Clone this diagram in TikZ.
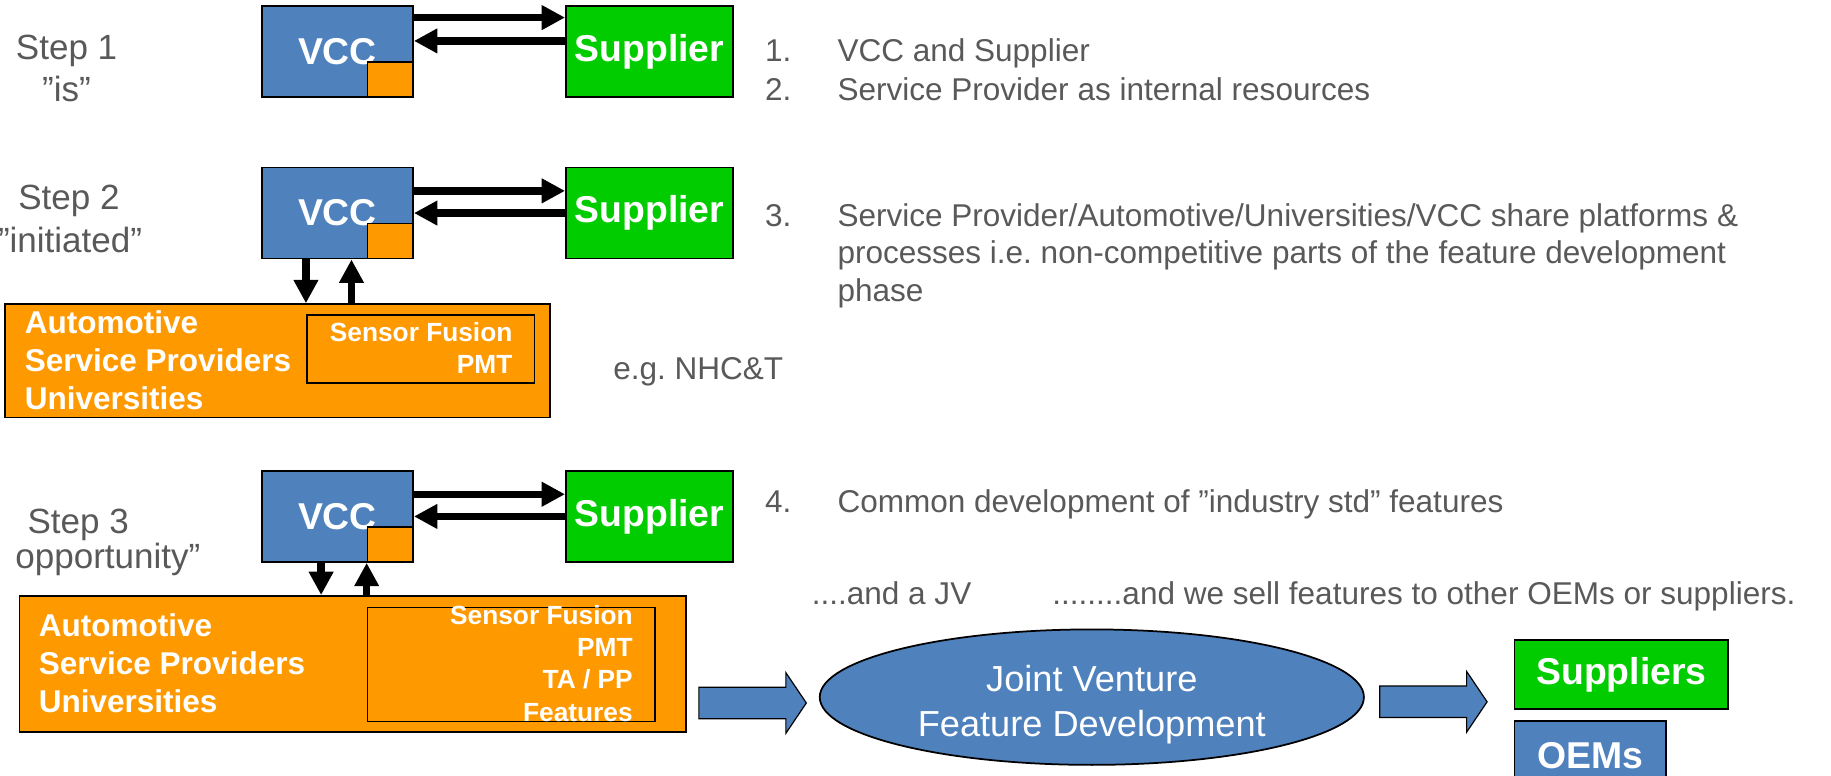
\documentclass[tikz,border=0pt]{standalone}
\usepackage{fontspec}
\setmainfont{Liberation Sans}
\usetikzlibrary{positioning,arrows.meta,shapes.geometric,shapes.arrows}

\definecolor{vccblue}{HTML}{4F81BD}
\definecolor{suppliergreen}{HTML}{00CC00}
\definecolor{partnerorange}{HTML}{FF9900}
\definecolor{notegray}{HTML}{595959}

\tikzset{
  box/.style={draw=black, line width=1.5pt, inner sep=0pt, text=white},
  bigbold/.style={font=\bfseries\fontsize{32}{38}\selectfont},
  vccbox/.style={box, bigbold, fill=vccblue, minimum width=129.5pt, minimum height=78pt, anchor=north west},
  supplierbox/.style={box, bigbold, fill=suppliergreen, minimum width=143pt, minimum height=78pt},
  cornerbox/.style={box, fill=partnerorange, minimum width=39pt, minimum height=30pt, anchor=south east},
  partnerbox/.style={box, fill=partnerorange, anchor=north west},
  platformbox/.style={draw=black, line width=1.5pt, inner sep=0pt, anchor=north west},
  flow/.style={line width=6.3pt, -{Triangle[length=20pt,width=20pt]}},
  blockarrow/.style={single arrow, draw=black, line width=1pt, fill=vccblue, inner xsep=0pt, inner ysep=13pt,
    single arrow head extend=12.5pt, single arrow tip angle=112, anchor=tail},
  steplabel/.style={text=notegray, font=\fontsize{30}{36}\selectfont, anchor=base, inner sep=0pt},
  note/.style={text=notegray, font=\fontsize{27}{32}\selectfont, anchor=base west, inner sep=0pt},
  partnertext/.style={text=white, font=\bfseries\fontsize{27}{32.5}\selectfont, align=left, anchor=base west, inner sep=0pt},
  platformtext/.style={text=white, font=\bfseries\fontsize{22.5}{27.5}\selectfont, align=right, anchor=base east, inner sep=0pt},
}

\begin{document}
\begin{tikzpicture}[x=1pt, y=-1pt]
    \useasboundingbox (0,0) rectangle (1568,664);

    % step 1
    \node[steplabel] (Step1 node) at (57,51) {Step 1};
    \node[steplabel] (Is node) at (57,87) {”is”};
    \node[vccbox] (VCC1 node) at (223.5,4.3) {VCC};
    \node[cornerbox] (Corner1 node) at (VCC1 node.south east) {};
    \node[supplierbox, right=129.4pt of VCC1 node] (Supplier1 node) {Supplier};
    \draw[flow] ([yshift=29pt]VCC1 node.east) -- ([yshift=29pt]VCC1 node.east -| Supplier1 node.west);
    \draw[flow] ([yshift=9pt]Supplier1 node.west) -- ([yshift=9pt]Supplier1 node.west -| VCC1 node.east);
    \node[note] (Num1 node) at (655,53) {1.};
    \node[note] (Item1 node) at (717,53) {VCC and Supplier};
    \node[note] (Num2 node) at (655,86) {2.};
    \node[note] (Item2 node) at (717,86) {Service Provider as internal resources};

    % step 2 (multi-line texts sit on their last baseline)
    \node[steplabel] (Step2 node) at (59,179) {Step 2};
    \node[steplabel] (Initiated node) at (60,216) {”initiated”};
    \node[vccbox] (VCC2 node) at (223.5,142.7) {VCC};
    \node[cornerbox] (Corner2 node) at (VCC2 node.south east) {};
    \node[supplierbox, right=129.4pt of VCC2 node] (Supplier2 node) {Supplier};
    \draw[flow] ([yshift=19pt]VCC2 node.east) -- ([yshift=19pt]VCC2 node.east -| Supplier2 node.west);
    \draw[flow] (Supplier2 node.west) -- (Supplier2 node.west -| VCC2 node.east);
    \node[partnerbox, minimum width=467pt, minimum height=97pt] (Partners2 node) at (3.3,259.7) {};
    \node[platformbox, minimum width=195pt, minimum height=58pt] (Platform2 node) at (262,269) {};
    \node[partnertext] (Members2 node) at (21,350.5) {Automotive\\Service Providers\\Universities};
    \node[platformtext] (Shared2 node) at (439,320) {Sensor Fusion\\PMT};
    \draw[flow] ([xshift=38.5pt]VCC2 node.south west) -- ([xshift=38.5pt]VCC2 node.south west |- Partners2 node.north);
    \draw[flow] ([xshift=77.5pt]VCC2 node.south west |- Partners2 node.north) -- ([xshift=77.5pt]VCC2 node.south west);
    \node[note] (Example node) at (525,325) {e.g.\ NHC\&T};
    \node[note] (Num3 node) at (655,194) {3.};
    \node[note, align=left] (Item3 node) at (717,258) {Service Provider/Automotive/Universities/VCC share platforms \&\\processes i.e.\ non-competitive parts of the feature development\\phase};

    % step 3
    \node[steplabel] (Step3 node) at (67,457) {Step 3};
    \node[note, font=\fontsize{30}{36}\selectfont] (Opportunity node) at (13,487) {opportunity”};
    \node[vccbox] (VCC3 node) at (223.5,402.5) {VCC};
    \node[cornerbox] (Corner3 node) at (VCC3 node.south east) {};
    \node[supplierbox, right=129.4pt of VCC3 node] (Supplier3 node) {Supplier};
    \draw[flow] ([yshift=19pt]VCC3 node.east) -- ([yshift=19pt]VCC3 node.east -| Supplier3 node.west);
    \draw[flow] (Supplier3 node.west) -- (Supplier3 node.west -| VCC3 node.east);
    \node[partnerbox, minimum width=570.6pt, minimum height=116.4pt] (Partners3 node) at (16,509.6) {};
    \node[platformbox, minimum width=246pt, minimum height=97.5pt] (Platform3 node) at (314,519.5) {};
    \node[partnertext] (Members3 node) at (33,610) {Automotive\\Service Providers\\Universities};
    \node[platformtext] (Shared3 node) at (542,617.5) {Sensor Fusion\\PMT\\TA / PP\\Features};
    \draw[flow] ([xshift=51.5pt]VCC3 node.south west) -- ([xshift=51.5pt]VCC3 node.south west |- Partners3 node.north);
    \draw[flow] ([xshift=90.5pt]VCC3 node.south west |- Partners3 node.north) -- ([xshift=90.5pt]VCC3 node.south west);
    \node[note] (Num4 node) at (655,439) {4.};
    \node[note] (Item4 node) at (717,439) {Common development of ”industry std” features};
    \node[note] (JV note) at (695,518) {....and a JV};
    \node[note] (Sell note) at (901,518) {........and we sell features to other OEMs or suppliers.};

    \node[blockarrow, minimum height=92pt] (ArrowA node) at (598,602) {};
    \node[ellipse, draw=black, line width=1.5pt, fill=vccblue, minimum width=466pt, minimum height=116pt, inner sep=0pt,
          text=white, align=center, font=\fontsize{31}{38}\selectfont] (Venture node) at (935,597) {\rule{0pt}{35pt}Joint Venture\\Feature Development};
    \node[blockarrow, minimum height=92pt] (ArrowB node) at (1181,601) {};
    \node[box, bigbold, fill=suppliergreen, minimum width=183pt, minimum height=59pt] (Suppliers node) at (1388.5,577.5) {Suppliers};
    \node[box, bigbold, fill=vccblue, minimum width=130pt, minimum height=59pt, below=9pt of Suppliers node.south west, anchor=north west] (OEMs node) {OEMs};
\end{tikzpicture}
\end{document}
